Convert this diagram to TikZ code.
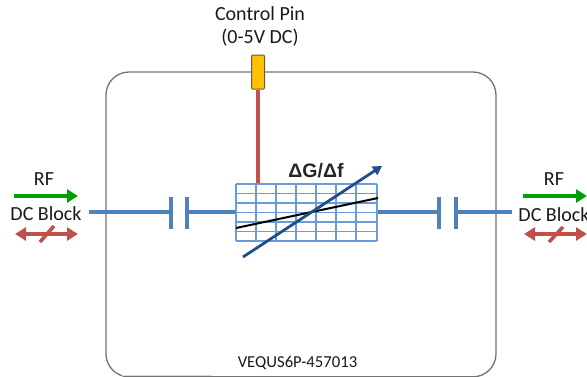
\documentclass[tikz,border=0pt]{standalone}
\usepackage{fontspec}
\setmainfont{Carlito}
\newfontfamily\arialfont{Liberation Sans}
\usetikzlibrary{arrows.meta}
\definecolor{wireblue}{HTML}{4F81BD}
\definecolor{gridblue}{HTML}{6A9BDC}
\definecolor{arrowblue}{HTML}{1F4E8C}
\definecolor{pinred}{HTML}{C0504D}
\definecolor{rfgreen}{HTML}{00A000}
\definecolor{pinyellow}{HTML}{FFC000}
\tikzset{
  wire/.style={draw=wireblue,line width=3.6pt},
  plate/.style={draw=wireblue,line width=4pt},
  gridline/.style={draw=gridblue,line width=1.3pt},
  rfarrow/.style={draw=rfgreen,line width=3.4pt,-{Triangle[length=11pt,width=13pt]}},
  dcarrow/.style={draw=pinred,line width=3.4pt,{Triangle[length=11pt,width=13pt]}-{Triangle[length=11pt,width=13pt]}},
  dcslash/.style={draw=pinred,line width=3.6pt},
  lbl/.style={font=\fontsize{20}{23}\selectfont,inner sep=0pt,text=black!90},
}
\begin{document}
\begin{tikzpicture}[x=1pt,y=-1pt]
\useasboundingbox (0,0) rectangle (587,376);
\clip (0,0) rectangle (587,376);
\draw[draw=black!55,line width=1.3pt,rounded corners=23pt] (106,72) rectangle (496,376.8);
\draw[draw=black!15,line width=0.8pt] (122,375.6) -- (212,375.6);
% wires and capacitors
\coordinate (wl) at (89,212);
\coordinate (cl1) at (171,212);
\coordinate (cl2) at (187,212);
\coordinate (gl) at (236,212);
\coordinate (gr) at (377,212);
\coordinate (cr1) at (439,212);
\coordinate (cr2) at (456,212);
\coordinate (wr) at (512,212);
\draw[wire] (wl) -- (cl1);
\draw[wire] (cl2) -- (gl);
\draw[wire] (gr) -- (cr1);
\draw[wire] (cr2) -- (wr);
\draw[plate] (171,197) -- (171,229);
\draw[plate] (187,197) -- (187,229);
\draw[plate] (439,197) -- (439,229);
\draw[plate] (456,197) -- (456,229);
% control pin
\node[draw=black!70!yellow,fill=pinyellow,line width=1pt,rounded corners=1pt,minimum width=13pt,minimum height=34pt,inner sep=0pt] (pin) at (258,72) {};
\coordinate (gt) at (258,184);
\draw[draw=pinred,line width=4pt] (pin.south) -- (gt);
% grid
\foreach \x in {236,256,276,296,316,336,356,377} \draw[gridline] (\x,184) -- (\x,241);
\foreach \y in {184,193.5,203,212.5,222,231.5,241} \draw[gridline] (236,\y) -- (377,\y);
\coordinate (ba) at (236,228);
\coordinate (bb) at (378,198);
\draw[black,line width=2pt] (ba) -- (bb);
\coordinate (aa) at (243,257);
\coordinate (ab) at (382,166);
\draw[draw=arrowblue,line width=2.8pt,-{Triangle[length=9pt,width=10pt]}] (aa) -- (ab);
\node[inner sep=0pt,font=\arialfont\bfseries\fontsize{19.5}{22}\selectfont,text=black!85] (dg) at (316,171) {ΔG/Δf};
% labels
\node[lbl,align=center] (ctl) at (260,26) {Control Pin\\(0-5V DC)};
\node[lbl] (rfl) at (44,179) {RF};
\node[lbl] (dcl) at (46,214) {DC Block};
\node[lbl] (rfr) at (554,179) {RF};
\node[lbl] (dcr) at (554,215) {DC Block};
\node[inner sep=0pt,font=\fontsize{16.7}{18}\selectfont,text=black!90] (ve) at (297.5,363) {VEQUS6P-457013};
% left port arrows
\coordinate (a1) at (14,196); \coordinate (a2) at (78,196);
\coordinate (a3) at (15,234); \coordinate (a4) at (78,234);
\coordinate (s1) at (40,242); \coordinate (s2) at (54,226);
\draw[rfarrow] (a1) -- (a2);
\draw[dcarrow] (a3) -- (a4);
\draw[dcslash] (s1) -- (s2);
% right port arrows
\coordinate (b1) at (523,196); \coordinate (b2) at (587,196);
\coordinate (b3) at (524,234); \coordinate (b4) at (587,234);
\coordinate (t1) at (549,242); \coordinate (t2) at (563,227);
\draw[rfarrow] (b1) -- (b2);
\draw[dcarrow] (b3) -- (b4);
\draw[dcslash] (t1) -- (t2);
\end{tikzpicture}
\end{document}
